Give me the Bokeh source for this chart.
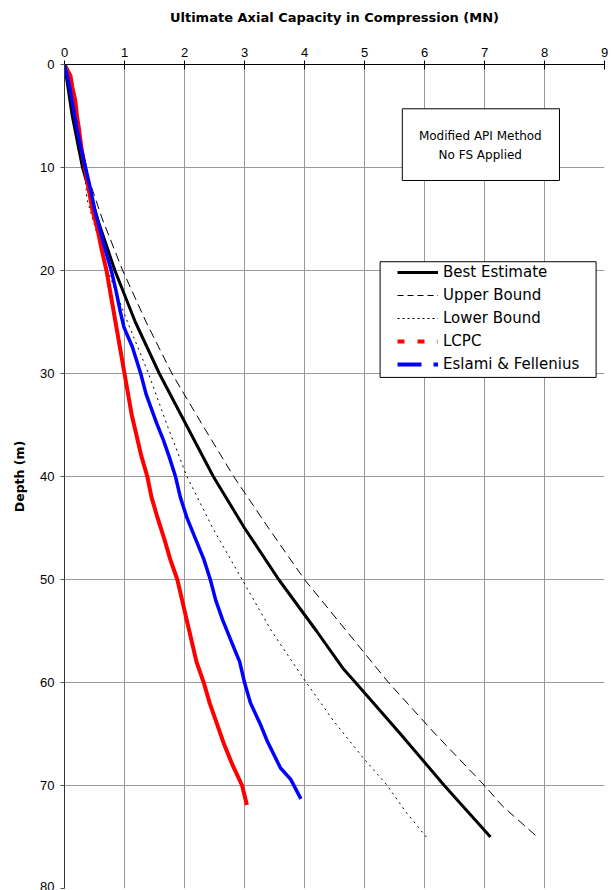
from bokeh.plotting import figure
from bokeh.models import Range1d, FixedTicker, Legend, LegendItem, BoxAnnotation, Label
from bokeh.embed import file_html
from bokeh.resources import INLINE

# ---- data ----
x_ticks = [0, 1, 2, 3, 4, 5, 6, 7, 8, 9]
y_ticks = [0, 10, 20, 30, 40, 50, 60, 70, 80]

best_depth = [0, 5, 10, 15, 20, 25, 30, 35, 40, 45, 50, 55, 58.7, 60, 65, 70, 75]
best_cap = [0, 0.13, 0.3, 0.55, 0.84, 1.18, 1.58, 2.03, 2.48, 3.0, 3.57, 4.2, 4.65, 4.85, 5.6, 6.33, 7.1]

upper_depth = [0, 5, 10, 15, 20, 25, 30, 35, 40, 45, 50, 55, 60, 65, 70, 72, 75]
upper_cap = [0, 0.13, 0.34, 0.63, 0.97, 1.36, 1.79, 2.3, 2.82, 3.4, 4.0, 4.7, 5.4, 6.18, 7.0, 7.3, 7.88]

lower_depth = [0, 5, 8, 10, 11, 13, 15, 20, 25, 30, 35, 40, 45, 50, 55, 60, 63.7, 67.4, 70, 72.5, 75]
lower_cap = [0, 0.14, 0.22, 0.3, 0.35, 0.37, 0.47, 0.72, 1.05, 1.4, 1.71, 2.04, 2.47, 2.96, 3.45, 4.03, 4.48, 4.99, 5.38, 5.68, 6.03]

lcpc_depth = [0, 1.1, 2.2, 3.5, 5.1, 6.2, 8, 9.3, 12, 14, 16, 18, 20, 22, 24, 26, 28, 30, 32, 34,
              36, 38, 40, 42, 44, 46, 48, 50, 52, 54, 56, 58, 60, 62, 64, 66, 68, 70, 71.9]
lcpc_cap = [0, 0.1, 0.13, 0.18, 0.21, 0.24, 0.28, 0.32, 0.4, 0.46, 0.55, 0.62, 0.7, 0.76, 0.82, 0.88, 0.94, 1.0, 1.06, 1.12,
            1.2, 1.28, 1.38, 1.45, 1.55, 1.66, 1.76, 1.88, 1.96, 2.04, 2.12, 2.2, 2.32, 2.42, 2.54, 2.66, 2.8, 2.96, 3.04]

ef_depth = [0, 2, 4, 6, 8, 10, 12, 14, 16, 18, 20, 22, 24, 25.5, 27.4, 30, 32, 34.9, 36.5, 38, 40, 42, 44,
            46, 48, 50, 52, 54, 56, 58, 60, 62, 64, 65.7, 68.3, 69.4, 71.3]
ef_cap = [0, 0.08, 0.14, 0.2, 0.27, 0.35, 0.43, 0.5, 0.59, 0.68, 0.78, 0.86, 0.93, 0.99, 1.13, 1.27, 1.36, 1.54, 1.65, 1.74, 1.85, 1.93, 2.04,
          2.18, 2.32, 2.43, 2.52, 2.64, 2.78, 2.92, 3.0, 3.1, 3.26, 3.38, 3.6, 3.77, 3.94]

x_title = "Ultimate Axial Capacity in Compression (MN)"
y_title = "Depth (m)"
note_lines = ["Modified API Method", "No FS Applied"]
names = ["Best Estimate", "Upper Bound", "Lower Bound", "LCPC", "Eslami & Fellenius"]

NAN = float("nan")

# ---- figure ----
p = figure(frame_width=540, frame_height=824, output_backend="svg", toolbar_location=None,
           x_axis_location="above", x_range=Range1d(0, 9), y_range=Range1d(80, 0),
           min_border_left=64, min_border_right=7, min_border_top=64, min_border_bottom=2)
p.outline_line_color = None
p.background_fill_color = "white"

p.xaxis.ticker = FixedTicker(ticks=x_ticks)
p.yaxis.ticker = FixedTicker(ticks=y_ticks)
p.xgrid.ticker = FixedTicker(ticks=x_ticks)
p.ygrid.ticker = FixedTicker(ticks=y_ticks)
for g in (p.xgrid, p.ygrid):
    g.grid_line_color = "#999999"
    g.grid_line_width = 1

p.xaxis.axis_label = x_title
p.yaxis.axis_label = y_title
for ax in (p.xaxis, p.yaxis):
    ax.axis_label_text_font = "DejaVu Sans"
    ax.axis_label_text_font_style = "bold"
    ax.axis_label_text_font_size = "13px"
    ax.axis_label_text_color = "black"
    ax.major_label_text_font = "Liberation Sans"
    ax.major_label_text_font_size = "13px"
    ax.major_label_text_color = "black"
    ax.minor_tick_line_color = None

p.xaxis.axis_line_color = "black"
p.xaxis.major_tick_line_color = "black"
p.xaxis.major_tick_in = 5
p.xaxis.major_tick_out = 4
p.xaxis.major_label_standoff = 4
p.xaxis.axis_label_standoff = 20

p.yaxis.axis_line_color = "#333333"
p.yaxis.major_tick_line_color = "#555555"
p.yaxis.major_tick_in = 0
p.yaxis.major_tick_out = 4
p.yaxis.major_label_standoff = 6
p.yaxis.axis_label_standoff = 10
p.yaxis.axis_label_text_font_size = "12.5px"

# ---- data lines ----
p.line(best_cap, best_depth, line_color="black", line_width=3)
p.line(upper_cap, upper_depth, line_color="black", line_width=1, line_dash="9 5")
p.line(lower_cap, lower_depth, line_color="black", line_width=1, line_dash="2 4")
p.line(lcpc_cap, lcpc_depth, line_color="red", line_width=4)
p.line(ef_cap, ef_depth, line_color="blue", line_width=3.5)

# ---- legend (placeholder renderers carry the legend glyph styles) ----
lg = [
    p.line([NAN], [NAN], line_color="black", line_width=3),
    p.line([NAN], [NAN], line_color="black", line_width=1, line_dash="6 4"),
    p.line([NAN], [NAN], line_color="black", line_width=1, line_dash="2 3"),
    p.line([NAN], [NAN], line_color="red", line_width=4, line_dash="7 13"),
    p.line([NAN], [NAN], line_color="blue", line_width=4, line_dash="24 12"),
]

p.add_layout(BoxAnnotation(left=5.26, right=8.86, top=19.15, bottom=30.38,
                           fill_color="white", fill_alpha=1, line_color="black",
                           line_alpha=1, line_width=1))

legend = Legend(items=[LegendItem(label=n, renderers=[r], index=0) for n, r in zip(names, lg)],
                location=(333, 514), margin=0, padding=0, spacing=3,
                glyph_width=41, glyph_height=20, label_height=20, label_standoff=5,
                label_text_font="DejaVu Sans", label_text_font_size="15px",
                label_text_color="black",
                background_fill_alpha=0, border_line_alpha=0)
p.add_layout(legend, "center")

# ---- note box ----
p.add_layout(BoxAnnotation(left=5.63, right=8.25, top=4.3, bottom=11.26,
                           fill_color="white", fill_alpha=1, line_color="black",
                           line_alpha=1, line_width=1))
for txt, yy in zip(note_lines, [6.9, 8.8]):
    p.add_layout(Label(x=6.93, y=yy, text=txt, text_align="center", text_baseline="middle",
                       text_font="DejaVu Sans", text_font_size="12px", text_color="black"))

open("out.html", "w").write(file_html(p, INLINE))
